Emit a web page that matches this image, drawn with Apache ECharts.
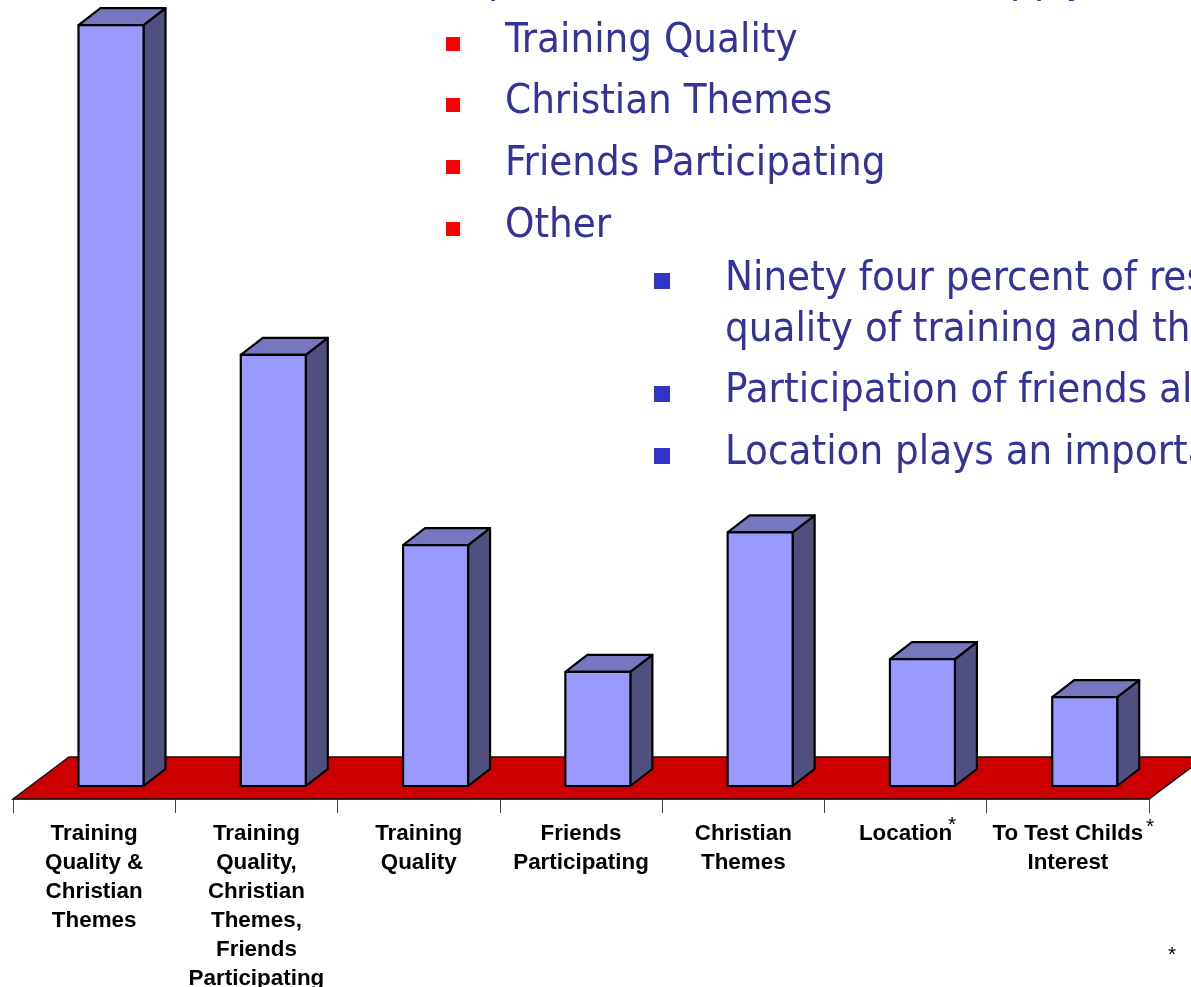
<!DOCTYPE html>
<html><head><meta charset="utf-8">
<style>html,body{margin:0;padding:0;background:#fff}#c{width:1191px;height:987px}</style>
<script src="https://cdn.jsdelivr.net/npm/echarts@6/dist/echarts.min.js"></script>
</head><body><div id="c"></div>
<script>
const categories = ['Training\nQuality &\nChristian\nThemes','Training\nQuality,\nChristian\nThemes,\nFriends\nParticipating','Training\nQuality','Friends\nParticipating','Christian\nThemes','Location','To Test Childs\nInterest'];
const responses = [60,34,19,9,20,10,7];
const redList = ['Training Quality','Christian Themes','Friends Participating','Other'];
const blueList = [['Ninety four percent of res',true],['quality of training and the',false],['Participation of friends al',true],['Location plays an importa',true]];
const clippedLine = [['p',1010],['p',1034],['y',1066],['p',488]];
const footNotes = [['*',952,825],['*',1150,827],['*',1172,955]];

const chart = echarts.init(document.getElementById('c'));
const BARW=65, BAROFF=65.5, LIFT=13, DX=22, DY=17;
const ink='#000';
function floorItem(p,api){
  const g=p.coordSys, x0=g.x, x1=g.x+g.width, y=g.y+g.height, dx=56, dy=42;
  return {type:'polygon',shape:{points:[[x0,y],[x0+dx,y-dy],[x1+dx,y-dy],[x1,y]]},style:{fill:'#CC0000',stroke:'#111',lineWidth:1.5}};
}
function barItem(p,api){
  const i=api.value(0), g=p.coordSys;
  const band=api.size([1,0])[0];
  const top=api.coord([i,api.value(1)])[1]-LIFT, bot=api.coord([i,0])[1]-LIFT;
  const l=g.x+band*i+BAROFF, r=l+BARW;
  const st=f=>({fill:f,stroke:ink,lineWidth:2.2,lineJoin:'round'});
  return {type:'group',children:[
    {type:'polygon',shape:{points:[[r,top],[r+DX,top-DY],[r+DX,bot-DY],[r,bot]]},style:st('#4F4F80')},
    {type:'polygon',shape:{points:[[l,top],[l+DX,top-DY],[r+DX,top-DY],[r,top]]},style:st('#7777BF')},
    {type:'rect',shape:{x:l,y:top,width:BARW,height:bot-top},style:st('#9999FF')}
  ]};
}
const txt=(s,x,y)=>({type:'text',x,y,z:20,style:{text:s,fill:'#333399',font:'41.6px "DejaVu Sans Condensed","DejaVu Sans"',textVerticalAlign:'middle'}});
const graphics=[];
const redY=[41,102,164,226], redTop=[37,98,160,222];
redList.forEach((s,i)=>{
  graphics.push(txt(s,505,redY[i]));
  graphics.push({type:'rect',x:446,y:redTop[i],z:20,shape:{x:0,y:0,width:14,height:14},style:{fill:'#FF0000'}});
});
const blueY=[279,330,391,453], blueTop=[273,0,386,448];
blueList.forEach(([s,b],i)=>{
  graphics.push(txt(s,725,blueY[i]));
  if(b) graphics.push({type:'rect',x:654,y:blueTop[i],z:20,shape:{x:0,y:0,width:16,height:16},style:{fill:'#3333CC'}});
});
clippedLine.forEach(([s,x])=>graphics.push(txt(s,x,-18.7)));
footNotes.forEach(([s,x,y])=>graphics.push({type:'text',x,y,z:20,style:{text:s,fill:'#000',font:'21px "Liberation Sans"',textAlign:'center',textVerticalAlign:'middle'}}));

chart.setOption({
  animation:false,
  backgroundColor:'#fff',
  grid:{left:13,width:1136,top:0,bottom:188,outerBoundsMode:'none'},
  xAxis:{type:'category',data:categories,boundaryGap:true,
    axisLine:{show:true,onZero:false,lineStyle:{color:'#707070',width:1.5}},
    axisTick:{show:true,alignWithLabel:false,length:14,lineStyle:{color:'#444',width:1}},
    axisLabel:{interval:0,margin:20.5,color:'#000',fontFamily:'Liberation Sans',fontWeight:'bold',fontSize:22.4,lineHeight:28.9,align:'center',verticalAlign:'top',hideOverlap:false}},
  yAxis:{type:'value',min:0,max:63,show:false,splitLine:{show:false}},
  graphic:graphics,
  series:[
    {type:'custom',name:'floor',data:[0],z:1,clip:false,silent:true,encode:{x:0},renderItem:floorItem},
    {type:'custom',name:'responses',z:5,clip:false,data:responses.map((v,i)=>[i,v]),encode:{x:0,y:1},renderItem:barItem}
  ]
});
</script></body></html>
